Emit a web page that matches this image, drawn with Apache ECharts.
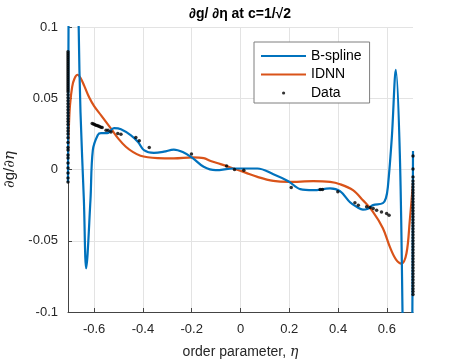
<!DOCTYPE html>
<html>
<head>
<meta charset="utf-8">
<script src="https://cdn.jsdelivr.net/npm/echarts@6/dist/echarts.min.js"></script>
<style>html,body{margin:0;padding:0;background:#fff}#c{width:457px;height:360px}</style>
</head>
<body>
<div id="c"></div>
<script>
// ---- data ----
const xTicks = [-0.6, -0.4, -0.2, 0, 0.2, 0.4, 0.6];
const xMin = -0.7071, xMax = 0.7071;
const yTicksLabel = ['-0.1', '-0.05', '0', '0.05', '0.1'];

const bsplineEta = [-0.7071, -0.7045, -0.700, -0.690, -0.678, -0.6633, -0.6559, -0.6420, -0.6327, -0.6151, -0.6053, -0.5849, -0.5714, -0.547, -0.5184, -0.490, -0.449, -0.420, -0.396, -0.355, -0.314, -0.2735, -0.2367, -0.196, -0.151, -0.102, -0.0286, 0.0694, 0.1347, 0.1959, 0.2449, 0.298, 0.367, 0.408, 0.449, 0.4776, 0.502, 0.5224, 0.543, 0.5837, 0.596, 0.604, 0.6204, 0.6367, 0.653, 0.6641, 0.672, 0.685, 0.697, 0.7045, 0.7071];
const bsplineVal = [-0.009, 0.12, 0.28, 0.40, 0.30, 0.100, 0.0403, -0.0216, -0.0693, -0.0216, 0.0136, 0.0242, 0.0255, 0.0255, 0.029, 0.0283, 0.024, 0.0193, 0.0136, 0.0117, 0.0125, 0.014, 0.0122, 0.008, 0.0019, -0.0005, 0.0007, 0.0007, -0.0033, -0.0082, -0.0138, -0.0145, -0.0133, -0.0152, -0.023, -0.0264, -0.0282, -0.0275, -0.025, -0.0236, -0.0201, -0.0124, 0.0227, 0.0700, 0.0115, -0.1002, -0.22, -0.33, -0.25, -0.10, 0.013];

const idnnEta = [-0.7071, -0.7035, -0.699, -0.690, -0.680, -0.668, -0.655, -0.640, -0.620, -0.600, -0.5714, -0.530, -0.500, -0.470, -0.440, -0.410, -0.380, -0.340, -0.2735, -0.196, -0.151, -0.1224, -0.0816, -0.0286, 0.0204, 0.0694, 0.1347, 0.1959, 0.298, 0.367, 0.408, 0.461, 0.502, 0.543, 0.5837, 0.6122, 0.637, 0.660, 0.6804, 0.694, 0.7071];
const idnnVal = [0.009, 0.030, 0.045, 0.058, 0.064, 0.0665, 0.064, 0.0585, 0.0505, 0.0445, 0.038, 0.0285, 0.0215, 0.016, 0.0122, 0.0097, 0.0086, 0.0080, 0.0078, 0.0085, 0.008, 0.006, 0.0038, 0.0007, -0.0022, -0.0052, -0.008, -0.0087, -0.0082, -0.0087, -0.0103, -0.0145, -0.0216, -0.0297, -0.0412, -0.0543, -0.063, -0.066, -0.0588, -0.0356, -0.0096];

// boundary data columns
const dataLeftEta = -0.7071;
const dataLeftVal = [0.0826, 0.0812, 0.0798, 0.0784, 0.0770, 0.0756, 0.0742, 0.0728, 0.0714, 0.0700, 0.0686, 0.0672, 0.0658, 0.0644, 0.0630, 0.0616, 0.0602, 0.0588, 0.0574, 0.0560, 0.0546, 0.0525, 0.0504, 0.0483, 0.0462, 0.0441, 0.0420, 0.0399, 0.0378, 0.0357, 0.0336, 0.0315, 0.0292, 0.0270, 0.0250, 0.0222, 0.0190, 0.0155, 0.0136, 0.0101, 0.0080, 0.0045, 0.0010, -0.0025, -0.0059, -0.0087];
const dataRightEta = 0.7071;
const dataRightVal = [0.0095, 0.0003, -0.0053, -0.0080, -0.0101, -0.0122, -0.0143, -0.0164, -0.0185, -0.0206, -0.0227, -0.0248, -0.0269, -0.0290, -0.0311, -0.0332, -0.0353, -0.0374, -0.0395, -0.0416, -0.0437, -0.0458, -0.0479, -0.0500, -0.0521, -0.0542, -0.0563, -0.0584, -0.0605, -0.0626, -0.0647, -0.0668, -0.0689, -0.0710, -0.0731, -0.0752, -0.0773, -0.0794, -0.0815, -0.0836, -0.0857, -0.0878];
// interior data
const dataEta = [-0.608, -0.603, -0.598, -0.593, -0.588, -0.583, -0.578, -0.572, -0.567, -0.551, -0.543, -0.531, -0.503, -0.490, -0.429, -0.415, -0.374, -0.201, -0.057, -0.0245, 0.0135, 0.208, 0.3265, 0.336, 0.399, 0.469, 0.483, 0.517, 0.531, 0.544, 0.558, 0.578, 0.599, 0.609];
const dataVal = [0.0323, 0.0319, 0.0315, 0.0311, 0.0308, 0.0305, 0.0301, 0.0297, 0.0294, 0.0276, 0.0276, 0.0264, 0.0253, 0.0248, 0.0225, 0.0201, 0.0154, 0.0108, 0.0024, 0.0, -0.0005, -0.0126, -0.014, -0.014, -0.0157, -0.0234, -0.025, -0.0262, -0.0267, -0.0274, -0.0286, -0.0298, -0.0309, -0.0321];

// ---- build ----
const zip = (a, b) => a.map((v, i) => [v, b[i]]);
const bspline = zip(bsplineEta, bsplineVal);
const idnn = zip(idnnEta, idnnVal);
const pts = dataLeftVal.map(v => [dataLeftEta, v])
  .concat(dataRightVal.map(v => [dataRightEta, v]))
  .concat(zip(dataEta, dataVal));

const FONT = "'Liberation Sans', Arial, Helvetica, sans-serif";
const TXT = '#262626';
const LINE_ICON = 'path://M0,0 M0,6 L45,6 L45,8 L0,8 Z M45,14';
const chart = echarts.init(document.getElementById('c'), null, {renderer: 'canvas'});
chart.setOption({
  animation: false,
  backgroundColor: '#fff',
  grid: {left: 68, right: 44, top: 27, bottom: 48, containLabel: false, outerBoundsMode: 'none'},
  graphic: [{
    type: 'text', x: 240, y: 14,
    style: {text: '∂g/ ∂η at c=1/√2', font: 'bold 14px ' + FONT, fill: '#000', textAlign: 'center', textVerticalAlign: 'middle'}
  }],
  legend: {
    orient: 'vertical', left: 254, top: 42,
    padding: [7, 8, 3, 7], itemGap: 4.5, itemWidth: 45, itemHeight: 14,
    backgroundColor: '#fff', borderColor: '#7f7f7f', borderWidth: 1, borderRadius: 0,
    textStyle: {fontFamily: FONT, fontSize: 14, color: '#000'},
    data: [
      {name: 'B-spline', icon: LINE_ICON},
      {name: 'IDNN', icon: LINE_ICON},
      {name: 'Data', icon: 'path://M0,0 M45,14 M21,7 a1.6,1.6 0 1,0 3.2,0 a1.6,1.6 0 1,0 -3.2,0 Z'}
    ]
  },
  xAxis: {
    type: 'value', min: xMin, max: xMax,
    name: '{a|order parameter, }{b|η}', nameLocation: 'middle', nameGap: 33,
    nameTextStyle: {rich: {
      a: {fontFamily: FONT, fontSize: 14, color: TXT},
      b: {fontFamily: "'DejaVu Serif', 'Liberation Serif', serif", fontStyle: 'italic', fontSize: 14, color: TXT}
    }},
    axisLine: {show: true, onZero: false, lineStyle: {color: '#444', width: 1}},
    axisTick: {show: true, inside: true, length: 4, customValues: xTicks, lineStyle: {color: '#444'}},
    axisLabel: {customValues: xTicks, margin: 11, fontFamily: FONT, fontSize: 13, color: TXT,
      formatter: v => (Math.abs(v) < 1e-9 ? '0' : String(+v.toFixed(1)))},
    splitLine: {show: true, customValues: xTicks, lineStyle: {color: '#e3e3e3', width: 1}}
  },
  yAxis: {
    type: 'value', min: -0.1, max: 0.1, interval: 0.05,
    name: '{s|∂}{n|g/}{s|∂η}', nameLocation: 'middle', nameGap: 46, nameRotate: 90,
    nameTextStyle: {rich: {
      s: {fontFamily: "'DejaVu Serif', 'Liberation Serif', serif", fontStyle: 'italic', fontSize: 15, color: TXT},
      n: {fontFamily: FONT, fontSize: 15, color: TXT}
    }},
    axisLine: {show: true, onZero: false, lineStyle: {color: '#444', width: 1}},
    axisTick: {show: true, inside: true, length: 4, lineStyle: {color: '#444'}},
    axisLabel: {margin: 10, fontFamily: FONT, fontSize: 13, color: TXT,
      formatter: v => yTicksLabel[Math.round((v + 0.1) / 0.05)]},
    splitLine: {show: true, lineStyle: {color: '#e3e3e3', width: 1}}
  },
  series: [
    {name: 'B-spline', type: 'line', data: bspline, symbol: 'none', smooth: 0.35, clip: true,
      color: '#0072BD', lineStyle: {color: '#0072BD', width: 2.2}, z: 3},
    {name: 'IDNN', type: 'line', data: idnn, symbol: 'none', smooth: 0.35, clip: true,
      color: '#D95319', lineStyle: {color: '#D95319', width: 2.2}, z: 2},
    {name: 'Data', type: 'scatter', data: pts, symbol: 'circle', symbolSize: 3.5, clip: false,
      color: '#000', itemStyle: {color: '#000'}, z: 4}
  ]
});
</script>
</body>
</html>
